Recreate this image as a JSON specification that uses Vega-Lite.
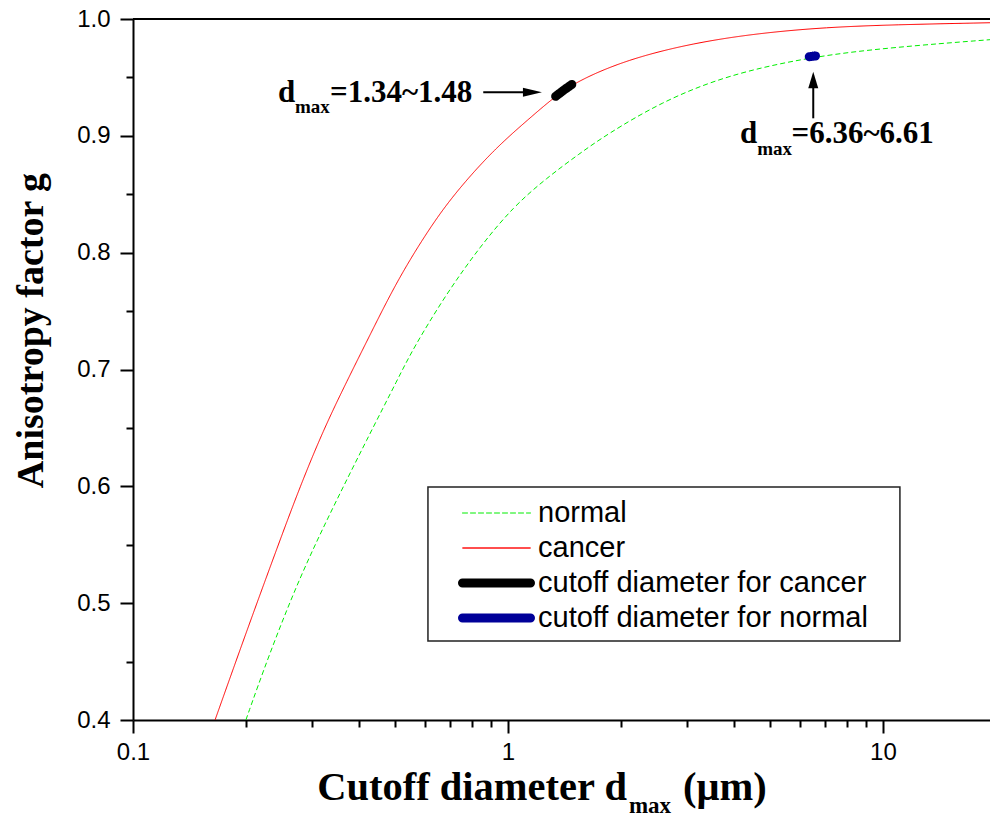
{
  "$schema": "https://vega.github.io/schema/vega-lite/v6.json",
  "autosize": {"type": "none"},
  "padding": {"left": 133, "top": 19, "right": 0, "bottom": 98},
  "width": 857,
  "height": 701,
  "background": "white",
  "config": {
    "view": {"stroke": null},
    "legend": {
      "orient": "none",
      "legendX": 295,
      "legendY": 468,
      "direction": "vertical",
      "padding": 11,
      "strokeColor": null,
      "fillColor": null,
      "symbolType": "stroke",
      "symbolSize": 4624,
      "clipHeight": 30,
      "rowPadding": 5,
      "symbolOffset": 19,
      "labelOffset": 3,
      "labelFont": "Liberation Sans",
      "labelFontSize": 29,
      "labelColor": "black",
      "labelLimit": 700
    }
  },
  "layer": [
    {
      "data": {"values": [{"g": 1.0}]},
      "mark": {"type": "rule", "color": "black", "strokeWidth": 2},
      "encoding": {
        "y": {"field": "g", "type": "quantitative"}
      }
    },
    {
      "data": {"values": [{"d": 0.6118, "d2": 11.1, "g": 0.5994, "g2": 0.4676}]},
      "mark": {"type": "rect", "fill": "white", "stroke": "#222222", "strokeWidth": 1.5},
      "encoding": {
        "x": {"field": "d", "type": "quantitative", "scale": {"type": "log"}},
        "x2": {"field": "d2"},
        "y": {"field": "g", "type": "quantitative"},
        "y2": {"field": "g2"}
      }
    },
    {
      "data": {"values": [
        {"series": "normal", "d": 0.2, "g": 0.4},
        {"series": "normal", "d": 0.2295, "g": 0.4542},
        {"series": "normal", "d": 0.2786, "g": 0.5227},
        {"series": "normal", "d": 0.342, "g": 0.5826},
        {"series": "normal", "d": 0.42, "g": 0.6397},
        {"series": "normal", "d": 0.5121, "g": 0.6938},
        {"series": "normal", "d": 0.559, "g": 0.7181},
        {"series": "normal", "d": 0.6862, "g": 0.7652},
        {"series": "normal", "d": 0.842, "g": 0.8051},
        {"series": "normal", "d": 1.033, "g": 0.8393},
        {"series": "normal", "d": 1.268, "g": 0.8639},
        {"series": "normal", "d": 1.556, "g": 0.8851},
        {"series": "normal", "d": 1.832, "g": 0.901},
        {"series": "normal", "d": 2.543, "g": 0.9284},
        {"series": "normal", "d": 3.83, "g": 0.9521},
        {"series": "normal", "d": 6.52, "g": 0.9681},
        {"series": "normal", "d": 10.65, "g": 0.9758},
        {"series": "normal", "d": 19.3, "g": 0.9823},
        {"series": "cancer", "d": 0.1655, "g": 0.4},
        {"series": "cancer", "d": 0.2014, "g": 0.477},
        {"series": "cancer", "d": 0.245, "g": 0.5515},
        {"series": "cancer", "d": 0.2786, "g": 0.5994},
        {"series": "cancer", "d": 0.3218, "g": 0.6482},
        {"series": "cancer", "d": 0.3721, "g": 0.6902},
        {"series": "cancer", "d": 0.4285, "g": 0.7295},
        {"series": "cancer", "d": 0.5058, "g": 0.7757},
        {"series": "cancer", "d": 0.6081, "g": 0.8177},
        {"series": "cancer", "d": 0.7145, "g": 0.8494},
        {"series": "cancer", "d": 0.9138, "g": 0.8879},
        {"series": "cancer", "d": 1.145, "g": 0.9153},
        {"series": "cancer", "d": 1.32, "g": 0.9324},
        {"series": "cancer", "d": 1.525, "g": 0.9467},
        {"series": "cancer", "d": 2.072, "g": 0.9652},
        {"series": "cancer", "d": 3.12, "g": 0.9795},
        {"series": "cancer", "d": 4.7, "g": 0.988},
        {"series": "cancer", "d": 7.07, "g": 0.9929},
        {"series": "cancer", "d": 10.65, "g": 0.9951},
        {"series": "cancer", "d": 19.3, "g": 0.9968}
      ]},
      "mark": {"type": "line", "interpolate": "basis", "strokeCap": "butt", "clip": true},
      "encoding": {
        "x": {
          "field": "d", "type": "quantitative",
          "scale": {"type": "log", "domain": [0.1, 19.3], "nice": false},
          "axis": {
            "values": [0.1, 0.2, 0.3, 0.4, 0.5, 0.6, 0.7, 0.8, 0.9, 1, 2, 3, 4, 5, 6, 7, 8, 9, 10],
            "title": null,
            "grid": false,
            "domainColor": "black", "domainWidth": 2,
            "tickColor": "black", "tickWidth": 2,
            "tickSize": {"condition": {"test": "datum.value == 0.1 || datum.value == 1 || datum.value == 10", "value": 13}, "value": 7},
            "labelExpr": "datum.value == 0.1 ? '0.1' : datum.value == 1 ? '1' : datum.value == 10 ? '10' : ''",
            "labelFont": "Liberation Sans", "labelFontSize": 24, "labelColor": "black",
            "labelPadding": 7, "labelFlush": false, "labelOverlap": false, "labelBound": false
          }
        },
        "y": {
          "field": "g", "type": "quantitative",
          "scale": {"domain": [0.4, 1.0], "nice": false, "zero": false},
          "axis": {
            "values": [0.4, 0.45, 0.5, 0.55, 0.6, 0.65, 0.7, 0.75, 0.8, 0.85, 0.9, 0.95, 1.0],
            "title": "Anisotropy factor g",
            "titleFont": "Liberation Serif", "titleFontWeight": "bold", "titleFontSize": 38, "titleColor": "black",
            "titleX": -91, "titleY": 311, "titleAlign": "center", "titleBaseline": "alphabetic", "titleAngle": 270,
            "grid": false,
            "domainColor": "black", "domainWidth": 2,
            "tickColor": "black", "tickWidth": 2,
            "tickSize": {"condition": {"test": "round(datum.value*100) % 10 == 0", "value": 13}, "value": 7},
            "labelExpr": "round(datum.value*100) % 10 == 0 ? format(datum.value, '.1f') : ''",
            "labelFont": "Liberation Sans", "labelFontSize": 24, "labelColor": "black",
            "labelPadding": 10, "labelFlush": false, "labelOverlap": false, "labelBound": false
          }
        },
        "color": {
          "field": "series", "type": "nominal",
          "scale": {"domain": ["normal", "cancer", "cutoff diameter for cancer", "cutoff diameter for normal"], "range": ["#00ee00", "#ff0000", "#000000", "#000099"]},
          "legend": {"title": null, "encode": {"symbols": {"update": {"strokeCap": {"value": "round"}}}}}
        },
        "strokeDash": {
          "field": "series", "type": "nominal",
          "scale": {"domain": ["normal", "cancer", "cutoff diameter for cancer", "cutoff diameter for normal"], "range": [[5, 3], [1, 0], [1, 0], [1, 0]]},
          "legend": {"title": null}
        },
        "strokeWidth": {
          "field": "series", "type": "nominal",
          "scale": {"type": "ordinal", "domain": ["normal", "cancer", "cutoff diameter for cancer", "cutoff diameter for normal"], "range": [1, 1, 9, 9]},
          "legend": {"title": null}
        }
      }
    },
    {
      "data": {"values": [
        {"series": "cutoff diameter for cancer", "d": 1.34, "g": 0.9338},
        {"series": "cutoff diameter for cancer", "d": 1.41, "g": 0.9392},
        {"series": "cutoff diameter for cancer", "d": 1.48, "g": 0.944},
        {"series": "cutoff diameter for normal", "d": 6.36, "g": 0.9677},
        {"series": "cutoff diameter for normal", "d": 6.61, "g": 0.9684}
      ]},
      "mark": {"type": "line", "strokeCap": "round"},
      "encoding": {
        "x": {"field": "d", "type": "quantitative", "scale": {"type": "log"}},
        "y": {"field": "g", "type": "quantitative"},
        "color": {"field": "series", "type": "nominal", "scale": {"domain": ["normal", "cancer", "cutoff diameter for cancer", "cutoff diameter for normal"], "range": ["#00ee00", "#ff0000", "#000000", "#000099"]}, "legend": {"title": null}},
        "strokeDash": {"field": "series", "type": "nominal", "scale": {"domain": ["normal", "cancer", "cutoff diameter for cancer", "cutoff diameter for normal"], "range": [[5, 3], [1, 0], [1, 0], [1, 0]]}, "legend": {"title": null}},
        "strokeWidth": {"field": "series", "type": "nominal", "scale": {"type": "ordinal", "domain": ["normal", "cancer", "cutoff diameter for cancer", "cutoff diameter for normal"], "range": [1, 1, 9, 9]}, "legend": {"title": null}}
      }
    },
    {
      "data": {"values": [
        {"d": 0.8592, "d2": 1.11, "g": 0.93726, "g2": 0.93726},
        {"d": 6.519, "d2": 6.519, "g": 0.915, "g2": 0.94265}
      ]},
      "mark": {"type": "rule", "color": "black", "strokeWidth": 2},
      "encoding": {
        "x": {"field": "d", "type": "quantitative", "scale": {"type": "log"}},
        "x2": {"field": "d2"},
        "y": {"field": "g", "type": "quantitative"},
        "y2": {"field": "g2"}
      }
    },
    {
      "data": {"values": [{"d": 1.162, "g": 0.93726}]},
      "mark": {"type": "point", "shape": "M-1,-0.47L1,0L-1,0.47Z", "filled": true, "color": "black", "opacity": 1, "size": 361, "strokeWidth": 0},
      "encoding": {
        "x": {"field": "d", "type": "quantitative", "scale": {"type": "log"}},
        "y": {"field": "g", "type": "quantitative"}
      }
    },
    {
      "data": {"values": [{"d": 6.519, "g": 0.94779}]},
      "mark": {"type": "point", "shape": "M-0.6,1L0,-1L0.6,1Z", "filled": true, "color": "black", "opacity": 1, "size": 276, "strokeWidth": 0},
      "encoding": {
        "x": {"field": "d", "type": "quantitative", "scale": {"type": "log"}},
        "y": {"field": "g", "type": "quantitative"}
      }
    },
    {
      "data": {"values": [
        {"label": "d", "d": 0.2435, "g": 0.92896},
        {"label": "=1.34~1.48", "d": 0.3352, "g": 0.92896},
        {"label": "d", "d": 4.156, "g": 0.89361},
        {"label": "=6.36~6.61", "d": 5.707, "g": 0.89361}
      ]},
      "mark": {"type": "text", "align": "left", "baseline": "alphabetic", "font": "Liberation Serif", "fontWeight": "bold", "fontSize": 31, "color": "black"},
      "encoding": {
        "x": {"field": "d", "type": "quantitative", "scale": {"type": "log"}},
        "y": {"field": "g", "type": "quantitative"},
        "text": {"field": "label"}
      }
    },
    {
      "data": {"values": [
        {"label": "max", "d": 0.2704, "g": 0.91954},
        {"label": "max", "d": 4.621, "g": 0.8836}
      ]},
      "mark": {"type": "text", "align": "left", "baseline": "alphabetic", "font": "Liberation Serif", "fontWeight": "bold", "fontSize": 19, "color": "black"},
      "encoding": {
        "x": {"field": "d", "type": "quantitative", "scale": {"type": "log"}},
        "y": {"field": "g", "type": "quantitative"},
        "text": {"field": "label"}
      }
    },
    {
      "data": {"values": [
        {"label": "Cutoff diameter d", "d": 2.076, "g": 0.3315}
      ]},
      "mark": {"type": "text", "align": "right", "baseline": "alphabetic", "font": "Liberation Serif", "fontWeight": "bold", "fontSize": 40.5, "color": "black"},
      "encoding": {
        "x": {"field": "d", "type": "quantitative", "scale": {"type": "log"}},
        "y": {"field": "g", "type": "quantitative"},
        "text": {"field": "label"}
      }
    },
    {
      "data": {"values": [
        {"label": "(μm)", "d": 2.929, "g": 0.3315}
      ]},
      "mark": {"type": "text", "align": "left", "baseline": "alphabetic", "font": "Liberation Serif", "fontWeight": "bold", "fontSize": 40.5, "color": "black"},
      "encoding": {
        "x": {"field": "d", "type": "quantitative", "scale": {"type": "log"}},
        "y": {"field": "g", "type": "quantitative"},
        "text": {"field": "label"}
      }
    },
    {
      "data": {"values": [
        {"label": "max", "d": 2.102, "g": 0.3204}
      ]},
      "mark": {"type": "text", "align": "left", "baseline": "alphabetic", "font": "Liberation Serif", "fontWeight": "bold", "fontSize": 23, "color": "black"},
      "encoding": {
        "x": {"field": "d", "type": "quantitative", "scale": {"type": "log"}},
        "y": {"field": "g", "type": "quantitative"},
        "text": {"field": "label"}
      }
    }
  ]
}
